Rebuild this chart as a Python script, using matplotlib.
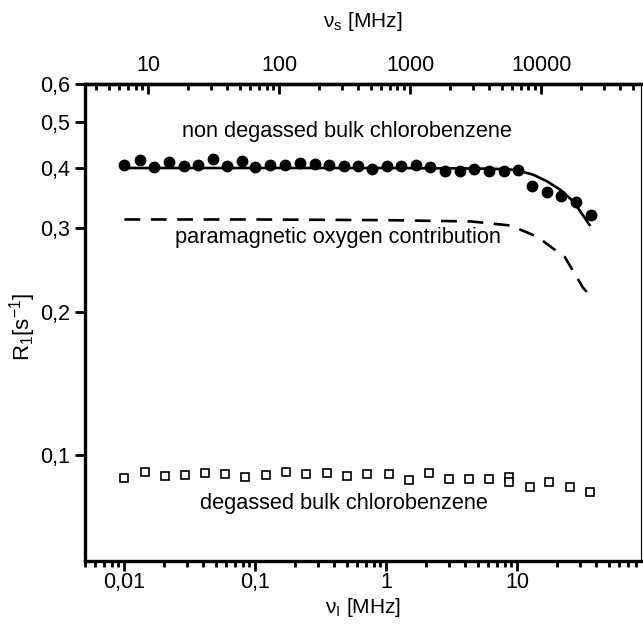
import numpy as np
import matplotlib
matplotlib.use("Agg")
import matplotlib.pyplot as plt
from matplotlib.ticker import FixedLocator, NullLocator, LogLocator, NullFormatter

plt.rcParams['font.family'] = ['Liberation Sans', 'DejaVu Sans']
plt.rcParams['mathtext.fontset'] = 'custom'
plt.rcParams['mathtext.rm'] = 'Liberation Sans'
plt.rcParams['mathtext.it'] = 'Liberation Sans:italic'

# non degassed bulk chlorobenzene (filled circles)
f_nd = [0.0100, 0.0131, 0.0169, 0.0218, 0.0283, 0.0365, 0.0475, 0.0608, 0.0791,
        0.100, 0.130, 0.169, 0.219, 0.284, 0.365, 0.472, 0.608, 0.782,
        1.02, 1.30, 1.69, 2.17, 2.82, 3.63, 4.67, 6.08, 7.87,
        10.1, 12.9, 16.8, 21.7, 28.2, 36.3]
r_nd = [0.406, 0.416, 0.401, 0.411, 0.404, 0.406, 0.418, 0.404, 0.413,
        0.402, 0.406, 0.406, 0.409, 0.408, 0.406, 0.403, 0.404, 0.399,
        0.404, 0.404, 0.406, 0.402, 0.395, 0.395, 0.398, 0.395, 0.394,
        0.396, 0.366, 0.356, 0.350, 0.339, 0.319]

# degassed bulk chlorobenzene (open squares)
f_dg = [0.0100, 0.0143, 0.0203, 0.0292, 0.0415, 0.059, 0.0839, 0.120, 0.172,
        0.245, 0.352, 0.501, 0.713, 1.04, 1.48, 2.10, 2.99, 4.25, 6.04,
        8.58, 8.58, 12.4, 17.6, 25.1, 35.6]
r_dg = [0.0894, 0.0923, 0.0905, 0.0908, 0.0917, 0.0913, 0.0898, 0.0908, 0.0920,
        0.0911, 0.0917, 0.0903, 0.0913, 0.0913, 0.0888, 0.0917, 0.0891, 0.0891,
        0.0891, 0.0898, 0.0877, 0.0856, 0.0877, 0.0856, 0.0838]

# fit (solid) and paramagnetic oxygen contribution (dashed)
f_fit = [0.0100, 0.1, 1.0, 5.0, 8.0, 9.9, 13.3, 16.9, 21.3, 26.9, 35.6]
r_fit = [0.400, 0.400, 0.400, 0.399, 0.398, 0.396, 0.387, 0.375, 0.360, 0.340, 0.304]
f_ox = [0.0100, 0.1, 1.0, 4.46, 8.9, 14.2, 23.1, 31.9, 35.6]
r_ox = [0.312, 0.312, 0.311, 0.309, 0.303, 0.287, 0.260, 0.224, 0.217]

x_ticks = [0.01, 0.1, 1, 10]
x_labels = ['0,01', '0,1', '1', '10']
top_ticks = [10, 100, 1000, 10000]
top_labels = ['10', '100', '1000', '10000']
y_ticks = [0.1, 0.2, 0.3, 0.4, 0.5, 0.6]
y_labels = ['0,1', '0,2', '0,3', '0,4', '0,5', '0,6']
gamma_ratio = 658.0

fig = plt.figure(figsize=(6.43, 6.27), dpi=100)
ax = fig.add_axes([0.1322, 0.1053, 0.8647, 0.7607])

ax.plot(f_fit, r_fit, color='black', lw=1.9, zorder=2)
ax.plot(f_ox, r_ox, color='black', lw=1.9, ls=(0, (6, 4)), zorder=2)
ax.plot(f_nd, r_nd, 'o', color='black', ms=7.5, zorder=3)
ax.plot(f_dg, r_dg, 's', mfc='white', mec='black', mew=1.2, ms=5.5, zorder=3)

ax.set_xscale('log')
ax.set_yscale('log')
ax.set_xlim(0.005, 88)
ax.set_ylim(0.06, 0.6)

ax.xaxis.set_major_locator(FixedLocator(x_ticks))
ax.set_xticklabels(x_labels)
ax.xaxis.set_minor_locator(LogLocator(base=10, subs=np.arange(2, 10)))
ax.xaxis.set_minor_formatter(NullFormatter())
ax.yaxis.set_major_locator(FixedLocator(y_ticks))
ax.set_yticklabels(y_labels)
ax.yaxis.set_minor_locator(NullLocator())

ax.tick_params(axis='x', which='major', direction='out', length=7, width=2, labelsize=15.5, pad=1)
ax.tick_params(axis='x', which='minor', direction='out', length=4, width=2)
ax.tick_params(axis='y', which='major', direction='out', length=7, width=2, labelsize=15.5, pad=4)

for s in ['left', 'bottom', 'top']:
    ax.spines[s].set_linewidth(2.4)
ax.spines['right'].set_linewidth(0.8)

top = ax.secondary_xaxis('top', functions=(lambda x: x * gamma_ratio, lambda x: x / gamma_ratio))
top.xaxis.set_major_locator(FixedLocator(top_ticks))
top.set_xticklabels(top_labels)
top.xaxis.set_minor_locator(LogLocator(base=10, subs=np.arange(2, 10)))
top.xaxis.set_minor_formatter(NullFormatter())
top.tick_params(axis='x', which='major', direction='in', length=7, width=2, labelsize=15.5, pad=6)
top.tick_params(axis='x', which='minor', direction='in', length=4, width=2)
top.spines['top'].set_linewidth(2.4)
top.set_xlabel('ν$_\\mathrm{s}$ [MHz]', fontsize=15, labelpad=20)

ax.set_xlabel('ν$_\\mathrm{I}$ [MHz]', fontsize=15, labelpad=2)
ax.set_ylabel('R$_\\mathrm{1}$[s$^\\mathrm{-1}$]', fontsize=16)
ax.yaxis.set_label_coords(-0.084, 0.49)

ax.text(0.504, 0.476, 'non degassed bulk chlorobenzene', fontsize=15.7, ha='center', va='center')
ax.text(0.430, 0.286, 'paramagnetic oxygen contribution', fontsize=15.7, ha='center', va='center')
ax.text(0.478, 0.079, 'degassed bulk chlorobenzene', fontsize=15.7, ha='center', va='center')

fig.savefig('out.png', dpi=100)
